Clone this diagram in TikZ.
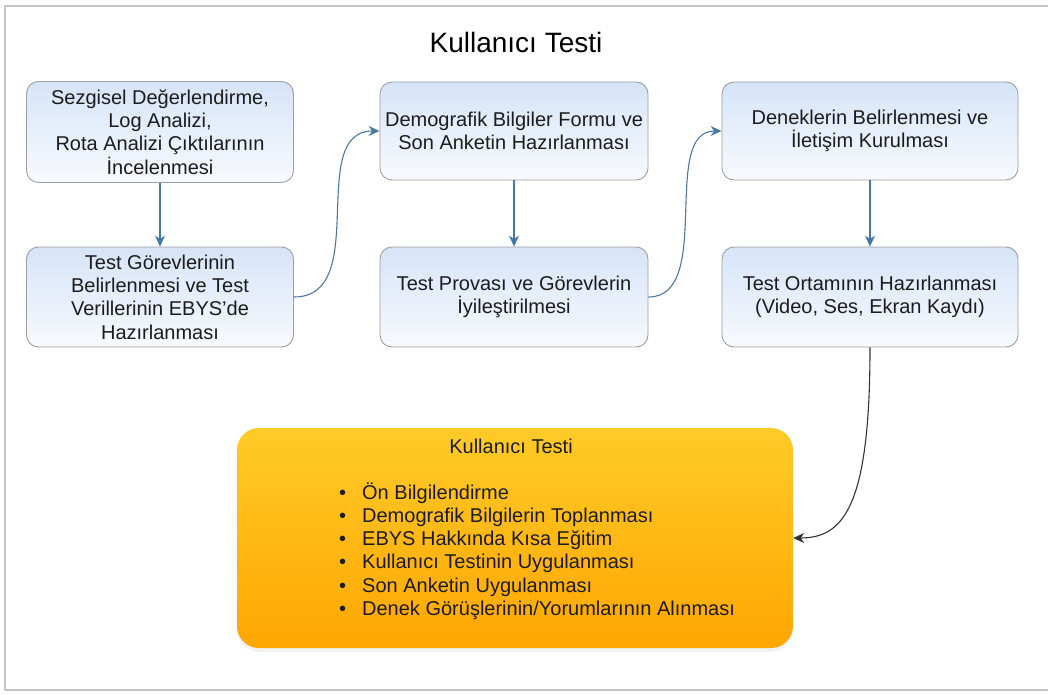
\documentclass[tikz,border=0pt]{standalone}
\usepackage{fontspec}
\setmainfont{Liberation Sans}
\usetikzlibrary{arrows.meta,shadows}

\definecolor{boxtop}{HTML}{D6E4F8}
\definecolor{boxbottom}{HTML}{F8FAFD}
\definecolor{boxline}{HTML}{9E9E9E}
\definecolor{flowblue}{HTML}{4178A8}
\definecolor{orangetop}{HTML}{FFCB28}
\definecolor{orangebottom}{HTML}{FFA602}
\definecolor{frameline}{HTML}{C4C4C4}
\definecolor{inktext}{HTML}{1C1C1C}

\tikzset{
  stepbox/.style={draw=boxline, line width=0.9pt, rounded corners=12pt,
    top color=boxtop, bottom color=boxbottom, inner sep=0pt,
    align=center, text=inktext, font=\fontsize{20}{23.3}\selectfont},
  mainbox/.style={rounded corners=22pt, top color=orangetop,
    bottom color=orangebottom, draw=none, inner sep=0pt,
    drop shadow={shadow xshift=0pt, shadow yshift=-4pt, opacity=0.12, fill=black!40}},
  flowarrow/.style={draw=flowblue, line width=1.2pt,
    -{Stealth[length=11pt,width=10pt]}},
  curvearrow/.style={draw=flowblue!80!gray, line width=1.1pt,
    -{Stealth[length=11pt,width=10pt]}},
  darkarrow/.style={draw=black!80, line width=1.1pt,
    -{Stealth[length=11pt,width=10pt]}},
  bodytext/.style={inner sep=0pt, text=inktext, font=\fontsize{20}{23.2}\selectfont}
}

\newcommand{\listbullet}{\makebox[23pt][l]{\textbullet}}

\begin{document}
\begin{tikzpicture}[x=1pt,y=-1pt]
  \useasboundingbox (0,0) rectangle (1048,695);
  \fill[white] (0,0) rectangle (1048,695);
  % outer frame
  \draw[frameline, line width=1.6pt] (1060,6) -- (5,6) -- (5,690) -- (1060,690);

  % heading
  \node[inner sep=0pt, font=\fontsize{28}{32}\selectfont, text=black] (title) at (516,42) {Kullanıcı Testi};

  % first column
  \node[stepbox, minimum width=267pt, minimum height=101pt] (prep) at (160,132)
    {Sezgisel Değerlendirme,\\Log Analizi,\\Rota Analizi Çıktılarının\\İncelenmesi};
  \node[stepbox, minimum width=267pt, minimum height=100pt] (tasks) at (160,297)
    {Test Görevlerinin\\Belirlenmesi ve Test\\Verillerinin EBYS'de\\Hazırlanması};

  % second column
  \node[stepbox, minimum width=268pt, minimum height=98pt] (forms) at (514,131)
    {Demografik Bilgiler Formu ve\\Son Anketin Hazırlanması};
  \node[stepbox, minimum width=268pt, minimum height=100pt] (pilot) at (514,297)
    {Test Provası ve Görevlerin\\İyileştirilmesi};

  % third column
  \node[stepbox, minimum width=296pt, minimum height=98pt] (subjects) at (870,131)
    {Deneklerin Belirlenmesi ve\\İletişim Kurulması};
  \node[stepbox, minimum width=296pt, minimum height=100pt] (setup) at (870,297)
    {Test Ortamının Hazırlanması\\(Video, Ses, Ekran Kaydı)};

  % final session box
  \node[mainbox, minimum width=556pt, minimum height=220pt] (session) at (515,538) {};
  \node[bodytext] (sessiontitle) at (511,446) {Kullanıcı Testi};
  \node[bodytext, align=left, anchor=west] (sessionlist) at (339,551)
    {\listbullet Ön Bilgilendirme\\
     \listbullet Demografik Bilgilerin Toplanması\\
     \listbullet EBYS Hakkında Kısa Eğitim\\
     \listbullet Kullanıcı Testinin Uygulanması\\
     \listbullet Son Anketin Uygulanması\\
     \listbullet Denek Görüşlerinin/Yorumlarının Alınması};

  % connectors
  \draw[flowarrow] (prep) -- (tasks);
  \draw[flowarrow] (forms) -- (pilot);
  \draw[flowarrow] (subjects) -- (setup);
  \draw[curvearrow] (tasks.east) .. controls +(78,0) and +(-74,0) .. (forms.west);
  \draw[curvearrow] (pilot.east) .. controls +(66,0) and +(-62,0) .. (subjects.west);
  \draw[darkarrow] (setup.south) .. controls +(0,160) and +(50,0) .. (session.east);
\end{tikzpicture}
\end{document}
